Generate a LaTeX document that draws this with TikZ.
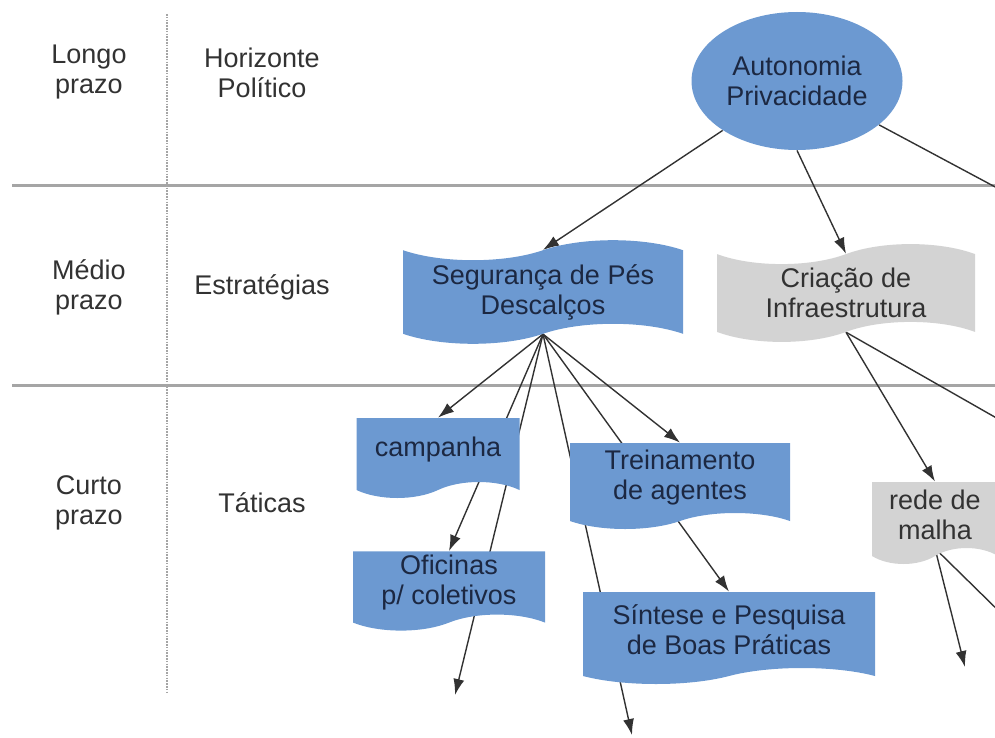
\documentclass[tikz,border=0pt]{standalone}
\usepackage{fontspec}
\setmainfont{Liberation Sans}
\usetikzlibrary
  {
    positioning,
    arrows.meta,
    backgrounds,
    shapes.symbols,
    shapes.geometric,
  }
\definecolor{azul}{RGB}{108,153,209}
\definecolor{cinza}{RGB}{211,211,211}
\definecolor{tinta}{RGB}{28,40,66}
\definecolor{grafite}{RGB}{50,50,50}
\definecolor{regua}{RGB}{165,165,165}
\newcommand\letra{\fontsize{13.5}{15}\selectfont}
\tikzset
  {
    >={Latex[length=8pt,width=5.5pt]},
    rotulo/.style=
      {
        align=center,
        text=grafite,
        font=\letra,
      },
    caixa/.style=
      {
        shape=tape,
        fill=azul,
        text=tinta,
        align=center,
        inner sep=2pt,
        font=\letra,
      },
    estrategia/.style={caixa, tape bend height=10pt, minimum height=48pt},
    tatica/.style={caixa, tape bend top=none, tape bend height=8pt},
    infra/.style={fill=cinza, text=grafite},
    objetivo/.style=
      {
        shape=ellipse,
        fill=azul,
        text=tinta,
        align=center,
        inner sep=0pt,
        minimum width=105.5pt,
        minimum height=69pt,
        font=\letra,
      },
    seta/.style={->, draw=grafite, line width=.7pt},
    fio/.style={draw=grafite, line width=.7pt},
    faixa/.style={draw=regua, line width=1.5pt},
    pontilhado/.style={draw=regua, line width=1.2pt, dash pattern=on .8pt off .6pt},
  }
\begin{document}
\begin{tikzpicture}[x=.5pt, y=-.5pt]
  \useasboundingbox (0,0) rectangle (995,738);
  \clip (0,0) rectangle (995,738);

  % colunas da esquerda
  \begin{scope}[every node/.style={rotulo}]
    \node (longo) at (89,72) {Longo\\prazo};
    \node (medio) at (89,287) {Médio\\prazo};
    \node (curto) at (89,503) {Curto\\prazo};
    \node (horizonte) at (262,73) {Horizonte\\Político};
    \node (estrategias) at (horizonte|-medio) {Estratégias};
    \node (taticas) at (horizonte|-curto) {Táticas};
  \end{scope}

  \node[objetivo] (auto) at (797,81) {Autonomia\\Privacidade};

  \begin{scope}[every node/.style={estrategia}]
    \node[minimum width=140pt] (segur) at (543,292) {Segurança de Pés\\Descalços};
    \node[infra, minimum width=129pt] (criacao) at (846,293) {Criação de\\Infraestrutura};
  \end{scope}

  \begin{scope}[every node/.style={tatica}]
    \node[minimum width=81.5pt, minimum height=40pt] (campanha) at (438,450) {campanha};
    \node[minimum width=96pt, minimum height=38pt] (oficinas) at (449,583) {Oficinas\\p/ coletivos};
    \node[minimum width=110pt, minimum height=43pt] (treino) at (680,478) {Treinamento\\de agentes};
    \node[minimum width=146pt, minimum height=46pt] (sintese) at (729,630) {Síntese e Pesquisa\\de Boas Práticas};
    \node[infra, minimum width=63pt, minimum height=41pt] (rede) at (935,515) {rede de\\malha};
  \end{scope}

  \coordinate (fora1) at (1100,243);
  \coordinate (fora2) at (1100,477);
  \coordinate (fora3) at (1060,671);
  \coordinate (baixo1) at (455,695);
  \coordinate (baixo2) at (632,735);
  \coordinate (baixo3) at (965,667);

  \begin{scope}[on background layer]
    \draw[faixa] (12,185) -- (995,185);
    \draw[faixa] (12,385) -- (995,385);
    \draw[pontilhado] (167,14) -- (167,692);

    \draw[seta] (auto) -- (segur.north);
    \draw[seta] (auto.south) -- (criacao.north);
    \draw[fio] (auto) -- (fora1);

    \draw[seta] (segur.south) -- (campanha.north);
    \draw[seta] (segur.south) -- (oficinas.north);
    \draw[seta] (segur.south) -- (baixo1);
    \draw[seta] (segur.south) -- (baixo2);
    \draw[seta] (segur.south) -- (sintese.north);
    \draw[seta] (segur.south) -- (treino.north);

    \draw[seta] (criacao.south) -- (rede.north);
    \draw[fio] (criacao.south) -- (fora2);
    \draw[seta] (rede.south) -- (baixo3);
    \draw[fio] (rede.south) -- (fora3);
  \end{scope}
\end{tikzpicture}
\end{document}
